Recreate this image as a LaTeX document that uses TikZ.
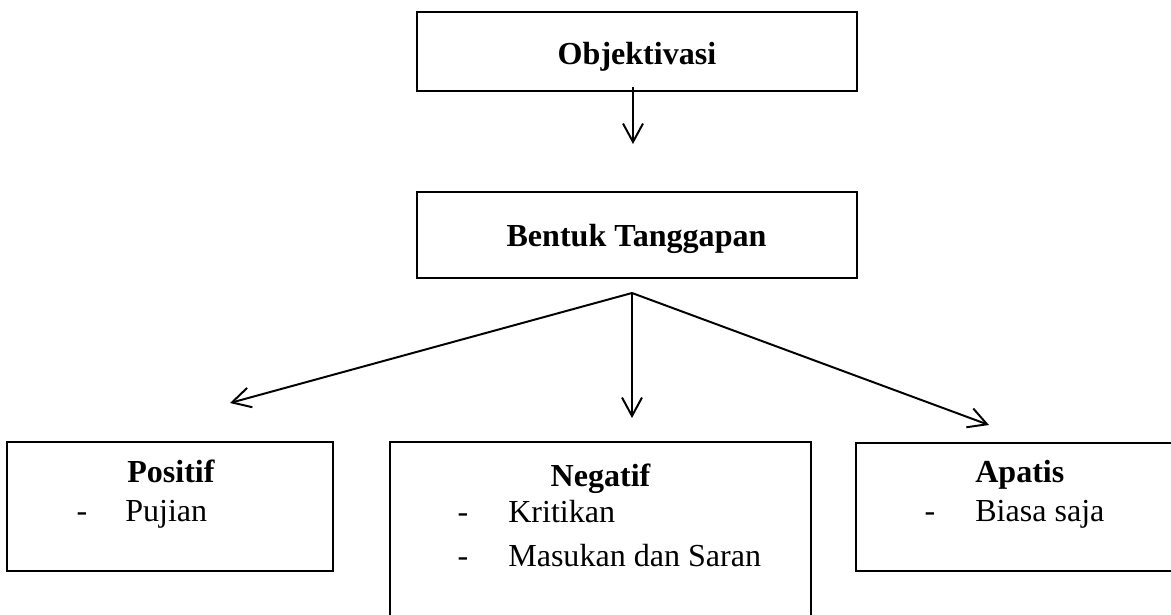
\documentclass[tikz,border=0pt]{standalone}
\usepackage{fontspec}
\setmainfont{Liberation Serif}
\usetikzlibrary{arrows.meta, positioning}
\tikzset{
  kotak/.style={rectangle, draw=black, line width=1.4pt, inner sep=0pt},
  judul/.style={font=\fontsize{22.8}{27}\selectfont\bfseries, inner sep=0pt},
  isi/.style={font=\fontsize{22.8}{27}\selectfont, anchor=base west, inner sep=0pt},
  strip/.style={font=\fontsize{22.8}{27}\selectfont, anchor=base, inner sep=0pt},
  panah/.style={-{Straight Barb[length=4.6mm, width=5mm, line width=1.4pt]}, line width=1.4pt}
}
\begin{document}
\begin{tikzpicture}[x=0.025cm, y=-0.025cm]
  \useasboundingbox (0,0) rectangle (1171,615);
  \clip (0,0) rectangle (1171,615);
  % kotak
  \node[kotak, minimum width=11cm, minimum height=1.975cm] (obj) at (637,51.5) {};
  \node[kotak, minimum width=11cm, minimum height=2.15cm] (bentuk) at (637,235) {};
  \node[kotak, minimum width=8.15cm, minimum height=3.225cm] (positif) at (170,506.5) {};
  \node[kotak, minimum width=10.525cm, minimum height=4.95cm] (negatif) at (600.5,541) {};
  \node[kotak, minimum width=8.225cm, minimum height=3.2cm] (apatis) at (1020.5,507) {};
  % teks
  \node[judul, anchor=base] (objtxt) at (637,65) {Objektivasi};
  \node[judul, anchor=base] (bentuktxt) at (636.5,247) {Bentuk Tanggapan};
  \node[judul, anchor=base west] (postxt) at (127,483) {Positif};
  \node[strip] (pos1) at (82,522) {-};
  \node[isi] (pujian) at (125,522) {Pujian};
  \node[judul, anchor=base] (negtxt) at (600.5,487) {Negatif};
  \node[strip] (neg1) at (463,523) {-};
  \node[isi] (kritik) at (508,523) {Kritikan};
  \node[strip] (neg2) at (463,567) {-};
  \node[isi] (saran) at (508,567) {Masukan dan Saran};
  \node[judul, anchor=base west] (aptxt) at (975,483) {Apatis};
  \node[strip] (ap1) at (930,522) {-};
  \node[isi] (biasa) at (975,522) {Biasa saja};
  % panah
  \coordinate (awal) at (633,87);
  \coordinate (ujung) at (633,144);
  \coordinate (cabang) at (632,293);
  \coordinate (kiri) at (230,403);
  \coordinate (tengah) at (632,418);
  \coordinate (kanan) at (989,425);
  \draw[panah] (awal) -- (ujung);
  \draw[panah] (cabang) -- (kiri);
  \draw[panah] (cabang) -- (tengah);
  \draw[panah] (cabang) -- (kanan);
\end{tikzpicture}
\end{document}
